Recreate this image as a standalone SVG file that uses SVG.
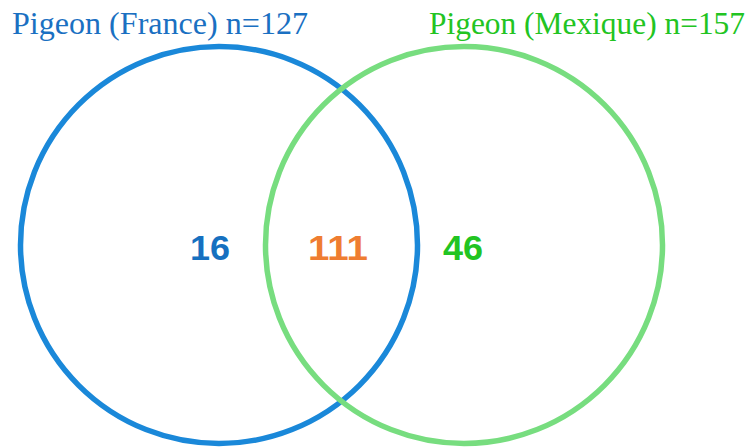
<svg xmlns="http://www.w3.org/2000/svg" width="751" height="448" viewBox="0 0 751 448">
<style>
.ring{fill:none;stroke-width:5.5}
.title{font-family:"Liberation Serif","Times New Roman",serif;font-size:31.5px}
.num{font-family:"Liberation Sans",Arial,sans-serif;font-weight:bold;font-size:35px;text-anchor:middle}
</style>
<rect width="751" height="448" fill="#ffffff"/>
<g id="set-france">
<circle class="ring" cx="219" cy="245" r="198.5" stroke="#1a88d9"/>
<text class="title" x="12" y="34" fill="#1a70c2" textLength="296" lengthAdjust="spacingAndGlyphs">Pigeon (France) n=127</text>
</g>
<g id="set-mexique">
<circle class="ring" cx="464" cy="245" r="198.5" stroke="#77dd7f"/>
<text class="title" x="429" y="34" fill="#22c422" textLength="316" lengthAdjust="spacingAndGlyphs">Pigeon (Mexique) n=157</text>
</g>
<g id="counts">
<text class="num" x="210" y="259.5" fill="#1670c0" textLength="40" lengthAdjust="spacingAndGlyphs">16</text>
<text class="num" x="338" y="259.5" fill="#ef7d31" textLength="60" lengthAdjust="spacingAndGlyphs">111</text>
<text class="num" x="463" y="259.5" fill="#22c422" textLength="40" lengthAdjust="spacingAndGlyphs">46</text>
</g>
</svg>
